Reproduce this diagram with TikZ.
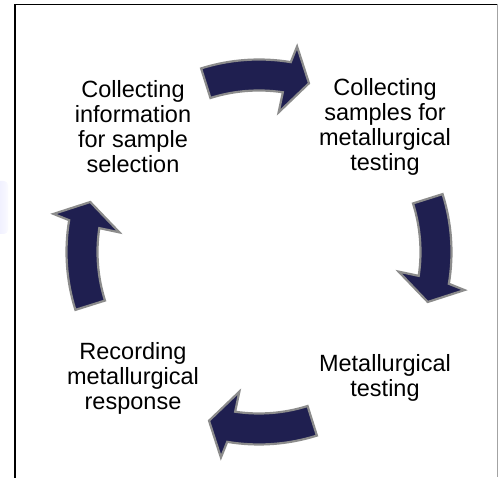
\documentclass[tikz,border=0pt]{standalone}
\usepackage{fontspec}
\setmainfont{Liberation Sans}
\definecolor{navy}{RGB}{31,31,80}
\definecolor{rimgray}{RGB}{140,140,140}
\begin{document}
\begin{tikzpicture}[x=1pt,y=1pt,
  stage/.style={align=center, font=\fontsize{23.5}{25}\selectfont, text=black, inner sep=0pt},
  cyclearrow/.style={fill=navy, draw=rimgray, line width=2.2pt, line join=miter},
  frameline/.style={line width=1.3pt}]
\useasboundingbox (0,0) rectangle (499,478);

% faint shape at the left edge
\shade[left color=blue!10, right color=blue!2, rounded corners=4pt] (-10,244) rectangle (8,297);

% frame
\draw[frameline, black] (15,0) -- (15,473.5) -- (497,473.5);
\draw[frameline, rimgray!80] (497.8,473.5) -- (497.8,1);

% stage labels
\node[stage] (info)    at (133,351) {Collecting\\information\\for sample\\selection};
\node[stage] (samples) at (385,351) {Collecting\\samples for\\metallurgical\\testing};
\node[stage] (testing) at (385,100) {Metallurgical\\testing};
\node[stage] (record)  at (133,100) {Recording\\metallurgical\\response};

% curved block arrows around the cycle
\foreach \r in {0,-90,-180,-270}{
  \begin{scope}[shift={(259,226)}, rotate=\r]
    \path[cyclearrow] (107.5:192.5) arc[start angle=107.5, end angle=80.5, radius=192.5]
      -- (79.5:209) -- (73.5:176) -- (82:141) -- (81.5:161.5)
      arc[start angle=81.5, end angle=107.5, radius=161.5] -- cycle;
  \end{scope}
}
\end{tikzpicture}
\end{document}
